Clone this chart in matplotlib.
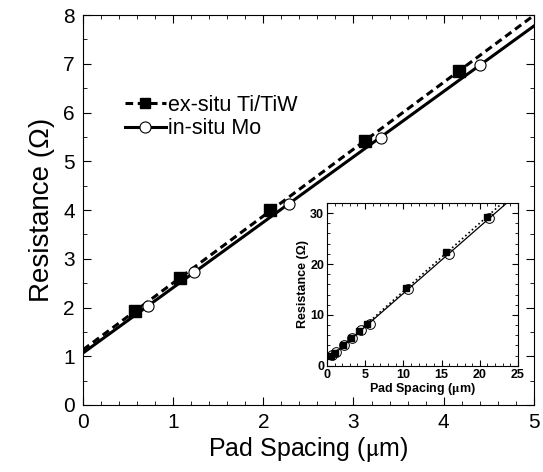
import numpy as np
import matplotlib
matplotlib.use('Agg')
import matplotlib.pyplot as plt
from matplotlib.ticker import MultipleLocator

plt.rcParams['font.family'] = ['Liberation Sans', 'DejaVu Sans']
plt.rcParams['mathtext.fontset'] = 'stix'

# ex-situ Ti/TiW (filled squares)
exsitu_x = [0.58, 1.08, 2.07, 3.13, 4.17, 5.3, 10.4, 15.6, 21.0]
exsitu_r = [1.93, 2.60, 4.00, 5.42, 6.85, 8.3, 15.3, 22.3, 29.2]
# in-situ Mo (open circles)
insitu_x = [0.72, 1.23, 2.28, 3.30, 4.40, 5.6, 10.6, 16.0, 21.2]
insitu_r = [2.03, 2.73, 4.12, 5.48, 6.98, 8.2, 15.1, 22.0, 29.0]

def fit(x, y, xmax):
    x = np.array(x); y = np.array(y)
    m = x <= xmax
    return np.polyfit(x[m], y[m], 1)

fig = plt.figure(figsize=(5.43, 4.72), dpi=100)
ax = fig.add_axes([0.153, 0.142, 0.830, 0.826])

xx = np.linspace(0, 5, 50)
pe = fit(exsitu_x, exsitu_r, 5)
pi = fit(insitu_x, insitu_r, 5)
ax.plot(xx, np.polyval(pe, xx), 'k--', lw=2.2, dashes=(2.5, 1.5))
ax.plot(xx, np.polyval(pi, xx), 'k-', lw=2.2)
ax.plot(exsitu_x, exsitu_r, 's', color='k', ms=8, zorder=3)
ax.plot(insitu_x, insitu_r, 'o', mfc='white', mec='k', ms=8, mew=0.8, zorder=2)

# legend proxies
ax.plot([], [], 'k--', marker='s', ms=7, lw=2.2, dashes=(2.5, 1.5), label='ex-situ Ti/TiW')
ax.plot([], [], 'k-', marker='o', mfc='white', ms=8, mew=0.8, lw=2.2, label='in-situ Mo')
ax.legend(loc='upper left', bbox_to_anchor=(0.05, 0.845), frameon=False, fontsize=15.5,
          handlelength=1.9, handletextpad=0.1, labelspacing=0.1)

ax.set_xlim(0, 5)
ax.set_ylim(0, 8)
ax.xaxis.set_minor_locator(MultipleLocator(0.2))
ax.yaxis.set_minor_locator(MultipleLocator(0.5))
ax.tick_params(which='both', direction='in', top=True, right=True, labelsize=15, pad=6)
ax.tick_params(which='major', length=6)
ax.tick_params(which='minor', length=3)
ax.set_xlabel(r'Pad Spacing ($\mathrm{\mu}$m)', fontsize=18, labelpad=2)
ax.set_ylabel('Resistance (Ω)', fontsize=20, labelpad=6)

# inset
ins = fig.add_axes([0.602, 0.225, 0.352, 0.345])
xi = np.linspace(0, 25, 50)
pe2 = fit(exsitu_x, exsitu_r, 25)
pi2 = fit(insitu_x, insitu_r, 25)
ins.plot(xi, np.polyval(pe2, xi), 'k:', lw=1.2)
ins.plot(xi, np.polyval(pi2, xi), 'k-', lw=0.9)
ins.plot(insitu_x, insitu_r, 'o', mfc='none', mec='k', ms=7, mew=0.7)
ins.plot(exsitu_x, exsitu_r, 's', color='k', ms=5)
ins.set_xlim(0, 25)
ins.set_ylim(0, 32)
ins.xaxis.set_major_locator(MultipleLocator(5))
ins.xaxis.set_minor_locator(MultipleLocator(1))
ins.yaxis.set_major_locator(MultipleLocator(10))
ins.yaxis.set_minor_locator(MultipleLocator(2))
ins.tick_params(which='both', direction='in', top=True, right=True, labelsize=9, pad=2)
ins.tick_params(which='major', length=4)
ins.tick_params(which='minor', length=2)
for lab in ins.get_xticklabels() + ins.get_yticklabels():
    lab.set_fontweight('bold')
ins.set_xlabel(r'Pad Spacing ($\mathbf{\mu}$m)', fontsize=9, fontweight='bold', labelpad=0)
ins.set_ylabel('Resistance (Ω)', fontsize=9, fontweight='bold', labelpad=1)

fig.savefig('out.png', dpi=100)
